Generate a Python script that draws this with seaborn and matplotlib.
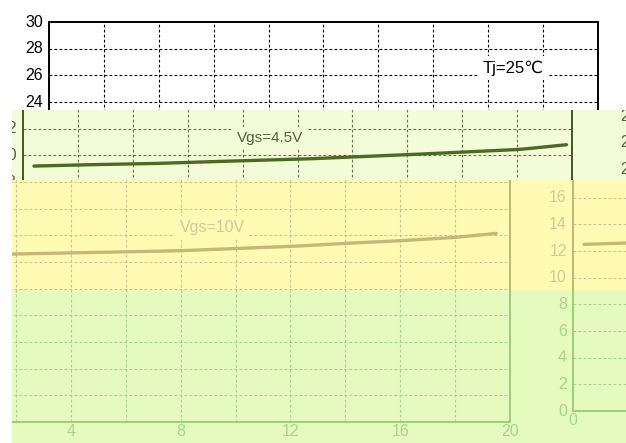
import matplotlib
matplotlib.use("Agg")
import matplotlib.pyplot as plt
import seaborn as sns

# On-resistance vs drain current
id_45 = [0.4, 2.4, 4.9, 7.2, 10.5, 14.5, 18.1, 19.8]
rds_45 = [19.2, 19.3, 19.4, 19.55, 19.75, 20.1, 20.45, 20.8]
id_10 = [0.4, 1.9, 8.0, 12.3, 14.0, 16.0, 18.0, 19.5]
rds_10 = [12.5, 12.6, 12.85, 13.2, 13.4, 13.6, 13.85, 14.15]

x_ticks = [0, 4, 8, 12, 16, 20]
y_ticks = list(range(0, 31, 2))
x_grid = list(range(2, 20, 2))
y_grid = list(range(2, 30, 2))

sns.set_style("white")
plt.rcParams['font.family'] = ['Liberation Sans', 'DejaVu Sans']

W, H = 626, 443
OX, OY = 49, 422          # pixel position of (0, 0) in the unshifted chart
SX, SY = 27.45, 13.33     # pixels per unit

fig = plt.figure(figsize=(W / 100, H / 100), dpi=100)
fig.patch.set_facecolor("white")

DASH = (0, (2.5, 2))


def panel(x0, y0, x1, y1, dx, dy, bg, ink, grid_c, text_c, curve_c, notes=True):
    ax = fig.add_axes([x0 / W, 1 - y1 / H, (x1 - x0) / W, (y1 - y0) / H])
    ax.set_facecolor(bg)
    for s in ax.spines.values():
        s.set_visible(False)
    ax.set_xticks([])
    ax.set_yticks([])

    ax.hlines(y_grid, 0, 20, colors=grid_c, linestyles=DASH, linewidth=0.8)
    ax.vlines(x_grid, 0, 30, colors=grid_c, linestyles=DASH, linewidth=0.8)
    ax.plot([0, 20, 20, 0, 0], [0, 0, 30, 30, 0], color=ink, lw=1.4,
            solid_joinstyle="miter")

    sns.lineplot(x=id_45, y=rds_45, ax=ax, color=curve_c, lw=2.4)
    sns.lineplot(x=id_10, y=rds_10, ax=ax, color=curve_c, lw=2.4)

    for v in y_ticks:
        ax.text(-0.22, v, str(v), ha="right", va="center", fontsize=11.5,
                color=text_c, clip_on=True)
    for u in x_ticks:
        ax.text(u, -0.75, str(u), ha="center", va="center", fontsize=11.5,
                color=text_c, clip_on=True)

    if notes:
        box = dict(facecolor=bg if bg != "none" else "white", edgecolor="none", pad=3)
        ax.text(16.9, 26.55, "Tj=25℃", ha="center", va="center", fontsize=12,
                color=text_c, bbox=box, clip_on=True)
        ax.text(9.0, 21.3, "Vgs=4.5V", ha="center", va="center", fontsize=11,
                color=text_c, bbox=box, clip_on=True)
        ax.text(9.15, 14.6, "Vgs=10V", ha="center", va="center", fontsize=11.5,
                color=text_c, bbox=box, clip_on=True)

    ax.set_xlim((x0 - OX - dx) / SX, (x1 - OX - dx) / SX)
    ax.set_ylim((OY + dy - y1) / SY, (OY + dy - y0) / SY)
    return ax


# band 1: clean top of the chart
panel(0, 0, 626, 110, 0, 0, "white", "black", "black", "black", "black")

# band 2: pale green, shifted left
panel(12, 110, 626, 180, -26, 0, "#f2fcd8", "#3f5a18", "#66744c", "#556040", "#4e6a20")
panel(575, 110, 626, 180, 595, 14, "none", "#3f5a18", "#66744c", "#556040", "#4e6a20",
      notes=False)

# band 3: yellow, shifted further left
panel(12, 180, 626, 290, -88, 0, "#fffbb4", "#c2b676", "#cbc28c", "#d2ca98", "#c4b878")
panel(512, 180, 626, 290, 524, -11, "none", "#c2b676", "#cbc28c", "#d2ca98", "#c4b878",
      notes=False)

# band 4: green, bottom of the chart
panel(12, 290, 626, 443, -88, 0, "#e5fbbd", "#9ccc78", "#a9d38a", "#a8d48e", "#9ccc78")
panel(512, 290, 626, 443, 524, -11, "none", "#9ccc78", "#a9d38a", "#a8d48e", "#9ccc78",
      notes=False)

fig.savefig("out.png", dpi=100, facecolor="white")
